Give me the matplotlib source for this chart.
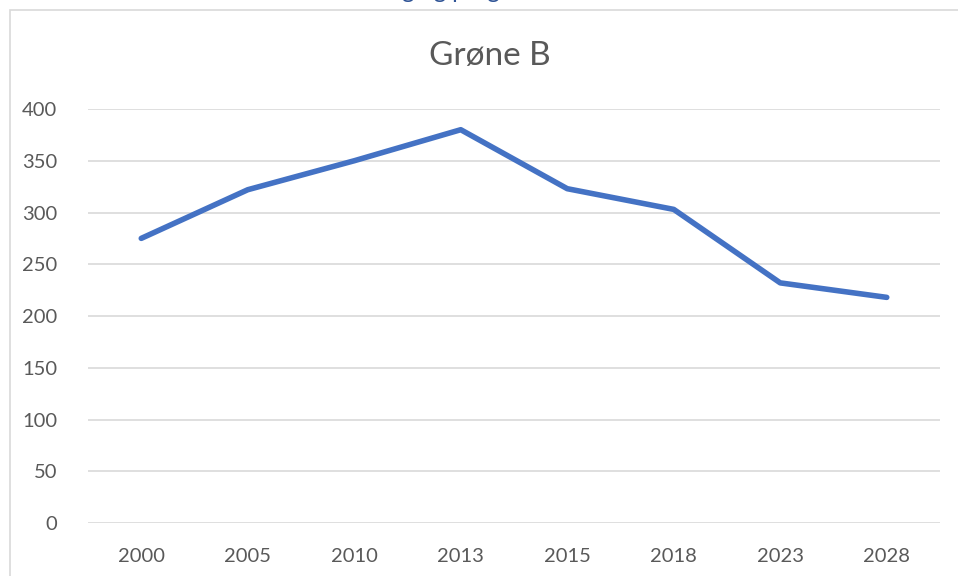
import matplotlib.pyplot as plt
from matplotlib.patches import Rectangle

# data
years = ['2000', '2005', '2010', '2013', '2015', '2018', '2023', '2028']
values = [275, 322, 350, 380, 323, 303, 232, 218]
y_ticks = [0, 50, 100, 150, 200, 250, 300, 350, 400]

plt.rcParams['font.family'] = ['Lato', 'DejaVu Sans']

fig = plt.figure(figsize=(9.58, 5.76), dpi=100)

# chart frame (only top and left edges are visible in the crop)
fig.patches.append(Rectangle((10 / 958, -0.1), 1.2, 1 - 10 / 576 + 0.1,
                             transform=fig.transFigure, fill=False,
                             edgecolor='#D9D9D9', linewidth=1.2))

# heading of the page above, clipped by the top edge
fig.text(0.452, 1 + 2 / 576, 'Udvikling og prognose', ha='center', va='baseline',
         fontsize=17, color='#2F5496')

ax = fig.add_axes([88 / 958, 1 - 523 / 576, (940 - 88) / 958, (523 - 109) / 576])
x = range(len(years))
ax.plot(x, values, color='#4472C4', linewidth=4, solid_capstyle='round',
        solid_joinstyle='round', zorder=3)

ax.set_xlim(-0.5, len(years) - 0.5)
ax.set_ylim(0, 400)
ax.set_xticks(list(x))
ax.set_xticklabels(years)
ax.set_yticks(y_ticks)
ax.grid(axis='y', color='#D9D9D9', linewidth=1.2)
ax.set_axisbelow(True)
for s in ax.spines.values():
    s.set_visible(False)
ax.tick_params(length=0, labelsize=14.5, labelcolor='#595959')
ax.tick_params(axis='y', pad=22)
ax.tick_params(axis='x', pad=18)

fig.text(490 / 958, 1 - 56 / 576, 'Grøne B', ha='center', va='center',
         fontsize=24, color='#595959')

fig.savefig('out.png', dpi=100)
